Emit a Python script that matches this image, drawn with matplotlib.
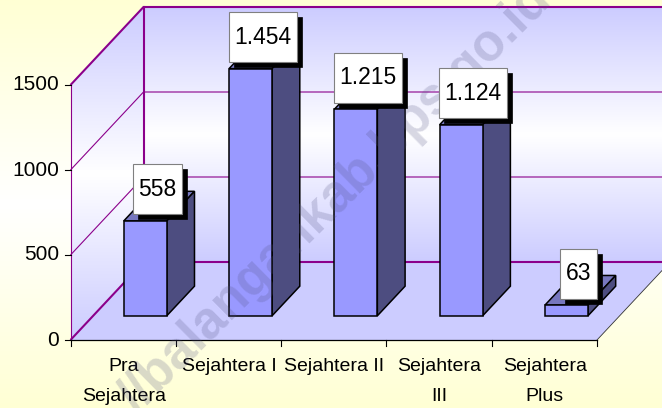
import numpy as np
import matplotlib
matplotlib.use("Agg")
import matplotlib.pyplot as plt
from matplotlib.colors import LinearSegmentedColormap
from matplotlib.patches import Polygon, Rectangle

categories = ["Pra\nSejahtera", "Sejahtera I", "Sejahtera II", "Sejahtera\nIII", "Sejahtera\nPlus"]
values = [558, 1454, 1215, 1124, 63]
value_labels = ["558", "1.454", "1.215", "1.124", "63"]
y_ticks = [0, 500, 1000, 1500]
watermark = "//balangankab.bps.go.id"

plt.rcParams["font.family"] = ["Liberation Sans", "DejaVu Sans"]
W, H = 662, 408
fig = plt.figure(figsize=(W / 100, H / 100), dpi=100)
ax = fig.add_axes([0, 0, 1, 1])

# Oblique projection: category position, value, depth (0 front .. 1 back)
X0, CAT_W = 70.5, 105.3
Y0, PX_PER_VAL = 340.0, 255.0 / 1500
DX, DY = 73.0, 78.0


def proj(c, v, d=0.0):
    return (X0 + c * CAT_W + d * DX, Y0 - v * PX_PER_VAL - d * DY)


VMAX = y_ticks[-1]
NC = len(categories)

# Figure background
bg = LinearSegmentedColormap.from_list("bg", ["#FFFFD4", "#FFFFFF", "#FFFFD4"])
grad = np.linspace(0, 1, 256).reshape(-1, 1)
ax.imshow(grad, cmap=bg, aspect="auto", extent=(0, W, H, 0), zorder=0)

# Walls
wall = LinearSegmentedColormap.from_list("wall", ["#CCCCFF", "#FFFFFF", "#CCCCFF"])
tl, tr = proj(0, VMAX, 1), proj(NC, VMAX, 1)
bl, br = proj(0, 0, 1), proj(NC, 0, 1)
im = ax.imshow(grad, cmap=wall, aspect="auto", extent=(tl[0], tr[0], bl[1], tl[1]), zorder=1)
back = Polygon([tl, tr, br, bl], fc="none", ec="none")
ax.add_patch(back)
im.set_clip_path(back)

# Left wall: vertical gradient over its bounding box, clipped to the wall
fl_top, fl_bot = proj(0, VMAX, 0), proj(0, 0, 0)
im2 = ax.imshow(grad, cmap=wall, aspect="auto", extent=(fl_top[0], tl[0], fl_bot[1], tl[1]), zorder=1)
left = Polygon([fl_top, tl, bl, fl_bot], fc="none", ec="none")
ax.add_patch(left)
im2.set_clip_path(left)

ax.set_xlim(0, W)
ax.set_ylim(H, 0)
ax.axis("off")

# Floor
ax.add_patch(Polygon([proj(0, 0, 0), proj(NC, 0, 0), proj(NC, 0, 1), proj(0, 0, 1)],
                     fc="#CCCCFF", ec="none", zorder=2))

PURPLE = "#8B008B"
# Gridlines on the walls
for v in y_ticks:
    thick = v in (y_ticks[0], y_ticks[-1])
    lw = 1.5 if thick else 0.8
    pts = [proj(0, v, 0), proj(0, v, 1), proj(NC, v, 1)]
    ax.plot(*zip(*pts), color=PURPLE, lw=lw, zorder=3, solid_capstyle="butt")
ax.plot(*zip(proj(0, 0, 1), proj(0, VMAX, 1)), color=PURPLE, lw=1.5, zorder=3)
ax.plot(*zip(proj(0, 0, 0), proj(0, VMAX, 0)), color=PURPLE, lw=0.8, zorder=3)

# Front edges and ticks
ax.plot(*zip(proj(0, 0, 0), proj(NC, 0, 0)), color="black", lw=0.9, zorder=3)
ax.plot(*zip(proj(NC, 0, 0), proj(NC, 0, 1)), color="#333333", lw=0.6, zorder=3)
for v in y_ticks:
    x, y = proj(0, v)
    ax.plot([x - 5.5, x], [y, y], color="black", lw=0.8, zorder=3)
    ax.text(x - 11.5, y, str(v), ha="right", va="center", fontsize=15, color="black", zorder=3)
for c in range(NC + 1):
    x, y = proj(c, 0)
    ax.plot([x, x], [y, y + 6], color="black", lw=0.8, zorder=3)
for c, lab in enumerate(categories):
    x, y = proj(c + 0.5, 0)
    ax.text(x + 0.5, y + 18, lab, ha="center", va="top", fontsize=14, color="black",
            linespacing=2.0, zorder=3)

# Bars
BAR_W = 43.0 / CAT_W
D_FRONT, D_BACK = 0.31, 0.69
for c, v in enumerate(values):
    a = c + 0.5 - BAR_W / 2 - 0.005
    b = a + BAR_W
    style = dict(ec="black", lw=1.1, joinstyle="miter", zorder=4)
    ax.add_patch(Polygon([proj(a, v, D_FRONT), proj(b, v, D_FRONT), proj(b, v, D_BACK), proj(a, v, D_BACK)],
                         fc="#7777BF", **style))
    ax.add_patch(Polygon([proj(b, 0, D_FRONT), proj(b, v, D_FRONT), proj(b, v, D_BACK), proj(b, 0, D_BACK)],
                         fc="#4D4D80", **style))
    ax.add_patch(Polygon([proj(a, 0, D_FRONT), proj(b, 0, D_FRONT), proj(b, v, D_FRONT), proj(a, v, D_FRONT)],
                         fc="#9999FF", **style))

# Watermark, under the value labels
ax.text(335, 199, watermark, rotation=44.7, rotation_mode="anchor", ha="center", va="center",
        fontsize=37, fontweight="bold", color="#505080", alpha=0.22, zorder=4.5)

# Value labels with drop shadow
fig.canvas.draw()
rend = fig.canvas.get_renderer()
for c, (v, lab) in enumerate(zip(values, value_labels)):
    fx, fy = proj(c + 0.5, v, D_FRONT)
    cx, cy = fx + 11.5, fy - 31.5
    t = ax.text(cx, cy, lab, ha="center", va="center", fontsize=16.5, color="black", zorder=7)
    w = t.get_window_extent(rend).width + 11
    h = 50
    ax.add_patch(Rectangle((cx - w / 2 + 5, cy - h / 2 + 5), w, h, fc="black", ec="black", lw=0.5, zorder=5))
    ax.add_patch(Rectangle((cx - w / 2, cy - h / 2), w, h, fc="white", ec="#808080", lw=0.8, zorder=6))

fig.savefig("out.png", dpi=100)
